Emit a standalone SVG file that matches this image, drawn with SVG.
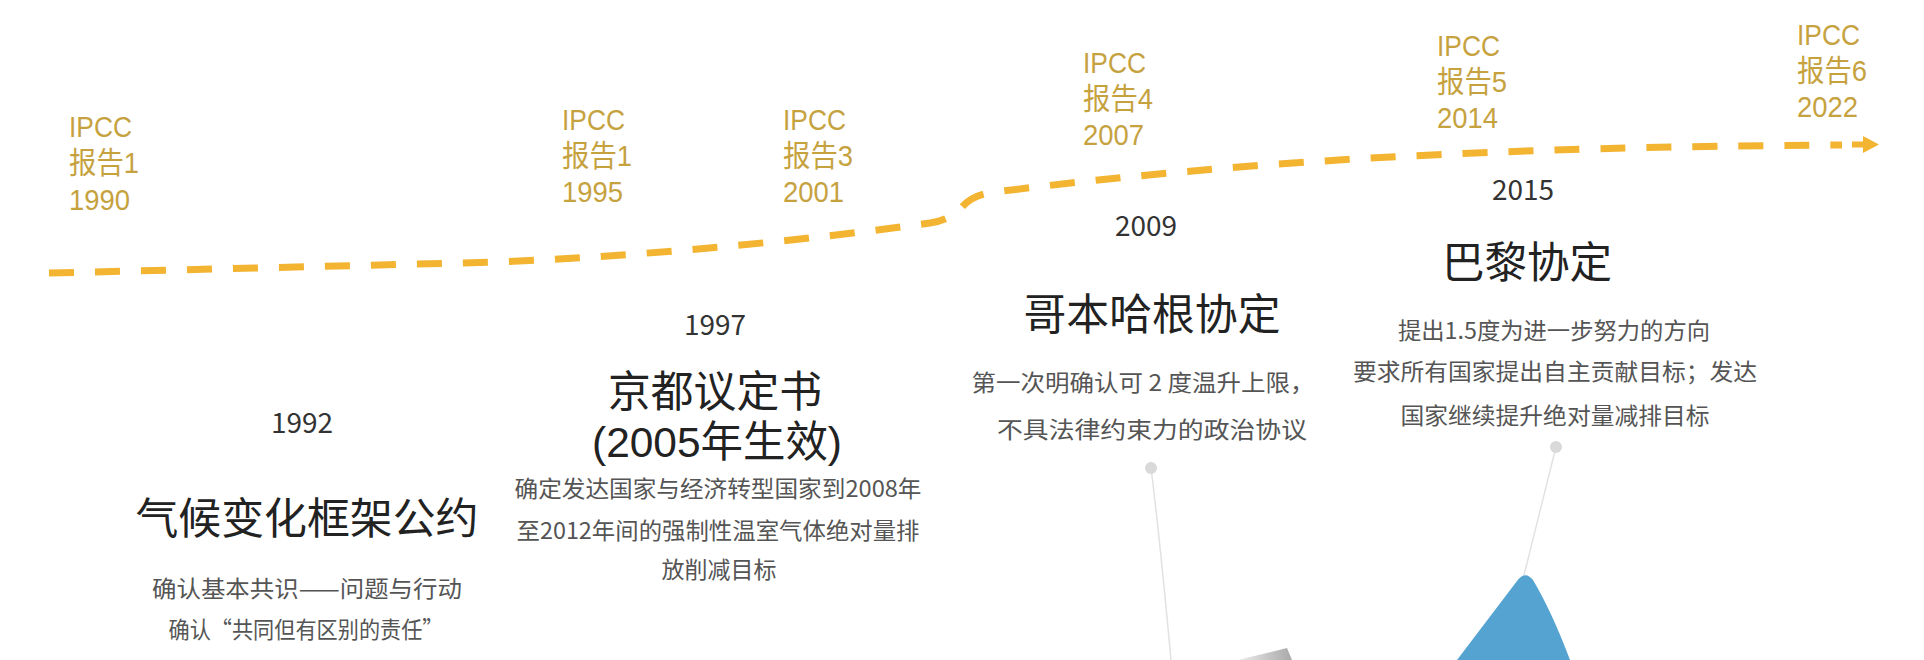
<svg xmlns="http://www.w3.org/2000/svg" width="1924" height="660" viewBox="0 0 1924 660">
  <defs>
    <linearGradient id="wedge" x1="0" y1="0" x2="1" y2="0">
      <stop offset="0" stop-color="#ececec"/>
      <stop offset="1" stop-color="#a9a9a9"/>
    </linearGradient>
    <style>
      .gold { font-family: "Liberation Sans", "Noto Sans CJK SC", sans-serif; font-size: 30px; fill: #C6A23F; }
      .cjk { font-family: "Noto Sans CJK SC", "Liberation Sans", sans-serif; text-anchor: middle; }
      .ls { font-family: "Liberation Sans", "Noto Sans CJK SC", sans-serif; }
      .year { font-size: 28px; fill: #333333; }
      .title { font-size: 43px; fill: #222222; }
      .desc { font-size: 23px; fill: #555555; }
      .timeline { fill: none; stroke: #F2B431; stroke-width: 7; stroke-dasharray: 25 21; }
      .pointer { fill: none; stroke: #e2e2e2; stroke-width: 1.5; }
      .dot { fill: #d9d9d9; }
    </style>
  </defs>
  <rect width="1924" height="660" fill="#ffffff"/>

  <g id="connectors">
    <path class="timeline" d="M49,273 L500,262 Q720,252 930,223 C948,220 955,214 962,207 C969,199 978,194 995,192 C1250,160 1500,147 1842,145"/>
    <polygon points="1852,141.5 1863,141.5 1863,136 1879,144.5 1863,153 1863,147.5 1852,147.5" fill="#F2B431"/>
    <path class="pointer" d="M1151,468 Q1160,540 1171,660"/>
    <path class="pointer" d="M1556,447 L1524,575"/>
  </g>

  <g id="ipcc-1990">
    <text class="gold" x="69" y="137" textLength="63" lengthAdjust="spacingAndGlyphs">IPCC</text>
    <text class="gold" x="69" y="173" textLength="70" lengthAdjust="spacingAndGlyphs">报告1</text>
    <text class="gold" x="69" y="210" textLength="61" lengthAdjust="spacingAndGlyphs">1990</text>
  </g>
  <g id="ipcc-1995">
    <text class="gold" x="562" y="130" textLength="63" lengthAdjust="spacingAndGlyphs">IPCC</text>
    <text class="gold" x="562" y="166" textLength="70" lengthAdjust="spacingAndGlyphs">报告1</text>
    <text class="gold" x="562" y="202" textLength="61" lengthAdjust="spacingAndGlyphs">1995</text>
  </g>
  <g id="ipcc-2001">
    <text class="gold" x="783" y="130" textLength="63" lengthAdjust="spacingAndGlyphs">IPCC</text>
    <text class="gold" x="783" y="166" textLength="70" lengthAdjust="spacingAndGlyphs">报告3</text>
    <text class="gold" x="783" y="202" textLength="61" lengthAdjust="spacingAndGlyphs">2001</text>
  </g>
  <g id="ipcc-2007">
    <text class="gold" x="1083" y="73" textLength="63" lengthAdjust="spacingAndGlyphs">IPCC</text>
    <text class="gold" x="1083" y="109" textLength="70" lengthAdjust="spacingAndGlyphs">报告4</text>
    <text class="gold" x="1083" y="145" textLength="61" lengthAdjust="spacingAndGlyphs">2007</text>
  </g>
  <g id="ipcc-2014">
    <text class="gold" x="1437" y="56" textLength="63" lengthAdjust="spacingAndGlyphs">IPCC</text>
    <text class="gold" x="1437" y="92" textLength="70" lengthAdjust="spacingAndGlyphs">报告5</text>
    <text class="gold" x="1437" y="128" textLength="61" lengthAdjust="spacingAndGlyphs">2014</text>
  </g>
  <g id="ipcc-2022">
    <text class="gold" x="1797" y="45" textLength="63" lengthAdjust="spacingAndGlyphs">IPCC</text>
    <text class="gold" x="1797" y="81" textLength="70" lengthAdjust="spacingAndGlyphs">报告6</text>
    <text class="gold" x="1797" y="117" textLength="61" lengthAdjust="spacingAndGlyphs">2022</text>
  </g>

  <g id="unfccc-1992" class="cjk">
    <text class="year" x="302" y="433">1992</text>
    <text class="title" x="307" y="534" textLength="343" lengthAdjust="spacingAndGlyphs">气候变化框架公约</text>
    <text class="desc" x="307" y="597" textLength="310" lengthAdjust="spacingAndGlyphs">确认基本共识——问题与行动</text>
    <text class="desc" x="306" y="638" textLength="275" lengthAdjust="spacingAndGlyphs">确认“共同但有区别的责任”</text>
  </g>

  <g id="kyoto-1997" class="cjk">
    <text class="year" x="715" y="335">1997</text>
    <text class="title ls" x="715" y="407" textLength="214" lengthAdjust="spacingAndGlyphs">京都议定书</text>
    <text class="title ls" x="717" y="457" textLength="250" lengthAdjust="spacingAndGlyphs">(2005年生效)</text>
    <text class="desc" x="718" y="497" textLength="407" lengthAdjust="spacingAndGlyphs">确定发达国家与经济转型国家到2008年</text>
    <text class="desc" x="718" y="539" textLength="403" lengthAdjust="spacingAndGlyphs">至2012年间的强制性温室气体绝对量排</text>
    <text class="desc" x="719" y="578">放削减目标</text>
  </g>

  <g id="copenhagen-2009" class="cjk">
    <text class="year" x="1146" y="236">2009</text>
    <text class="title" x="1152" y="330" textLength="257" lengthAdjust="spacingAndGlyphs">哥本哈根协定</text>
    <text class="desc" x="1143" y="391" font-size="25" textLength="343" lengthAdjust="spacingAndGlyphs">第一次明确认可 2 度温升上限，</text>
    <text class="desc" x="1152" y="438" font-size="25" textLength="310" lengthAdjust="spacingAndGlyphs">不具法律约束力的政治协议</text>
  </g>

  <g id="paris-2015" class="cjk">
    <text class="year" x="1523" y="200">2015</text>
    <text class="title" x="1527" y="278" textLength="170" lengthAdjust="spacingAndGlyphs">巴黎协定</text>
    <text class="desc" x="1554" y="339" font-size="24" textLength="312" lengthAdjust="spacingAndGlyphs">提出1.5度为进一步努力的方向</text>
    <text class="desc" x="1555" y="380" font-size="24" textLength="404" lengthAdjust="spacingAndGlyphs">要求所有国家提出自主贡献目标；发达</text>
    <text class="desc" x="1555" y="424" font-size="24" textLength="309" lengthAdjust="spacingAndGlyphs">国家继续提升绝对量减排目标</text>
  </g>

  <g id="decor">
    <circle class="dot" cx="1151" cy="468" r="6"/>
    <circle class="dot" cx="1556" cy="447" r="6"/>
    <path d="M1457,660 L1517,581 Q1525,570 1533,580 Q1552,612 1570,660 Z" fill="#54A3D1"/>
    <polygon points="1238,660 1287,648 1292,660" fill="url(#wedge)"/>
  </g>
</svg>
